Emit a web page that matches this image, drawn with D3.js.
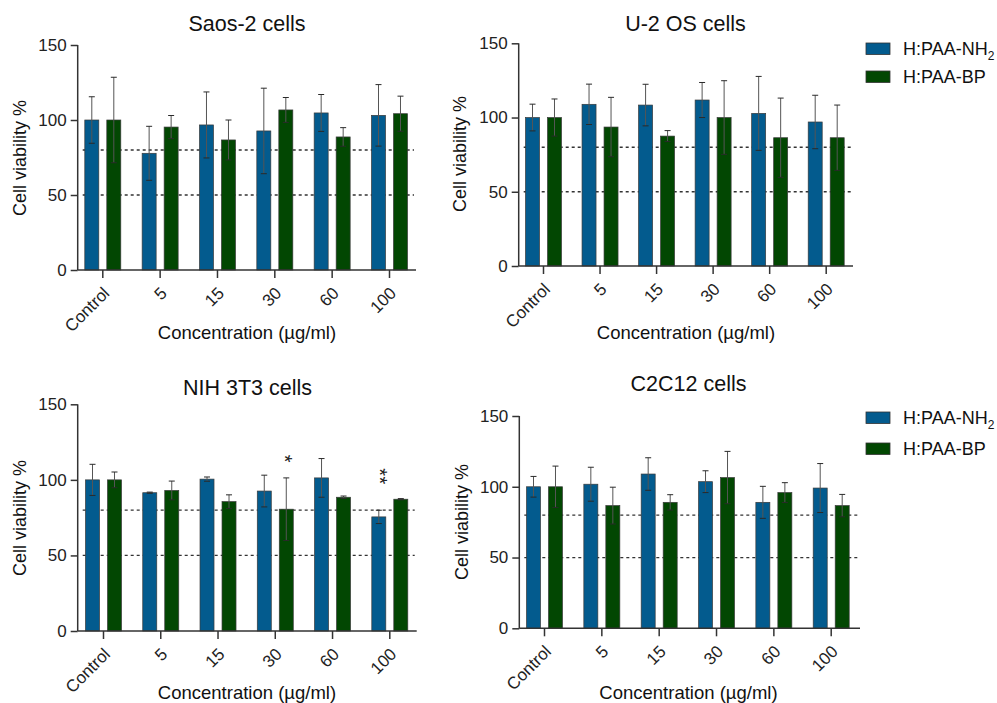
<!DOCTYPE html>
<html>
<head>
<meta charset="utf-8">
<script src="https://cdn.jsdelivr.net/npm/d3@7"></script>
<style>
  html, body { margin: 0; padding: 0; background: #fff; }
  svg { display: block; font-family: "Liberation Sans", Arial, sans-serif; }
</style>
</head>
<body>
<svg id="chart" width="997" height="703"></svg>
<script>
// ---------- data ----------
const categories = ["Control", "5", "15", "30", "60", "100"];
const seriesNames = ["H:PAA-NH2", "H:PAA-BP"];
const yTicks = [0, 50, 100, 150];
const refLines = [80, 50];

const saosNH2   = [100, 77.8, 96.7, 92.7, 104.7, 103.1];
const saosNH2Sd = [15.5, 18.0, 22.0, 28.5, 12.3, 20.5];
const saosBP    = [100, 95.3, 86.7, 106.7, 88.7, 104.2];
const saosBPSd  = [28.5, 7.7, 13.3, 8.3, 6.2, 11.7];

const u2osNH2   = [100, 108.9, 108.4, 111.8, 102.8, 97.0];
const u2osNH2Sd = [9.0, 13.6, 14.0, 11.8, 24.9, 18.0];
const u2osBP    = [100, 93.6, 87.5, 100, 86.4, 86.4];
const u2osBPSd  = [12.5, 20.0, 3.7, 24.8, 26.7, 22.0];

const nihNH2    = [100, 91.5, 100.5, 92.6, 101.3, 75.5];
const nihNH2Sd  = [10.3, 0.4, 1.4, 10.5, 12.8, 4.4];
const nihBP     = [100, 93.0, 85.6, 80.6, 88.5, 87.2];
const nihBPSd   = [5.2, 6.2, 4.5, 20.7, 0.8, 0.4];

const c2NH2     = [100, 101.8, 109.0, 103.6, 89.0, 99.1];
const c2NH2Sd   = [7.3, 12.0, 11.5, 7.7, 11.3, 17.3];
const c2BP      = [100, 86.7, 89.0, 106.5, 95.9, 86.7];
const c2BPSd    = [14.6, 13.0, 5.4, 18.5, 7.0, 7.9];

// significance marks: category, series index, label (stars stacked vertically), centre value level
const nihMarks = [
  { cat: "30", s: 1, text: "*", level: 113.8 },
  { cat: "100", s: 0, text: "**", level: 102.2 }
];

const colors = ["#035b8e", "#024702"];

// ---------- layout (pixel geometry per panel) ----------
const panels = [
  { title: "Saos-2 cells", means: [saosNH2, saosBP], sds: [saosNH2Sd, saosBPSd], marks: [],
    left: 77.7, right: 416, yTop: 45, yBot: 270, c0: 102.3, c1: 389, titleX: 247, titleY: 23,
    yTitleX: 20, yTitleY: 158, xTitleX: 247, xTitleY: 333, legend: null },
  { title: "U-2 OS cells", means: [u2osNH2, u2osBP], sds: [u2osNH2Sd, u2osBPSd], marks: [],
    left: 518.7, right: 853, yTop: 43.3, yBot: 266, c0: 543, c1: 825.7, titleX: 685.5, titleY: 23,
    yTitleX: 460, yTitleY: 154, xTitleX: 686, xTitleY: 333, legend: { x: 866, y: 43, gap: 28 } },
  { title: "NIH 3T3 cells", means: [nihNH2, nihBP], sds: [nihNH2Sd, nihBPSd], marks: nihMarks,
    left: 77.7, right: 416.7, yTop: 404.3, yBot: 631, c0: 103, c1: 389.3, titleX: 247.5, titleY: 387,
    yTitleX: 20, yTitleY: 518, xTitleX: 247, xTitleY: 693, legend: null },
  { title: "C2C12 cells", means: [c2NH2, c2BP], sds: [c2NH2Sd, c2BPSd], marks: [],
    left: 519.3, right: 860, yTop: 416, yBot: 628.3, c0: 544, c1: 830.7, titleX: 688.5, titleY: 383,
    yTitleX: 461.5, yTitleY: 522, xTitleX: 688.5, xTitleY: 693, legend: { x: 866, y: 412, gap: 31 } }
];

const svg = d3.select("#chart");
const axisColor = "#333";

panels.forEach(p => {
  const g = svg.append("g");

  const y = d3.scaleLinear().domain([0, 150]).range([p.yBot, p.yTop]);
  const x0 = d3.scalePoint().domain(categories).range([p.c0, p.c1]);
  const x1 = d3.scaleBand().domain(d3.range(seriesNames.length)).range([-17.5, 18.5]).paddingInner(0.3636);

  // reference dashed lines
  refLines.forEach(v => {
    g.append("line")
      .attr("x1", p.left + 5).attr("x2", p.right - 2)
      .attr("y1", y(v)).attr("y2", y(v))
      .attr("stroke", "#333").attr("stroke-width", 1.3)
      .attr("stroke-dasharray", "3,3");
  });

  // bars
  seriesNames.forEach((sName, s) => {
    const rows = categories.map((c, i) => ({ c, v: p.means[s][i], sd: p.sds[s][i] }));
    g.append("g").selectAll("rect").data(rows).join("rect")
      .attr("x", d => x0(d.c) + x1(s))
      .attr("width", x1.bandwidth())
      .attr("y", d => y(d.v))
      .attr("height", d => y(0) - y(d.v))
      .attr("fill", colors[s])
      .attr("stroke", "#3a3a3a").attr("stroke-width", 0.7);

    const eg = g.append("g").attr("stroke", "#2a2a2a").attr("stroke-width", 1);
    rows.forEach(d => {
      const cx = x0(d.c) + x1(s) + x1.bandwidth() / 2;
      eg.append("line").attr("x1", cx).attr("x2", cx).attr("y1", y(d.v + d.sd)).attr("y2", y(d.v - d.sd))
        .attr("stroke", "#555");
      [d.v + d.sd, d.v - d.sd].forEach(e => {
        eg.append("line").attr("x1", cx - 3).attr("x2", cx + 3).attr("y1", y(e)).attr("y2", y(e));
      });
    });
  });

  // significance marks: one text, rotated so the stars stack vertically
  p.marks.forEach(m => {
    const cx = x0(m.cat) + x1(m.s) + x1.bandwidth() / 2 + (m.s === 0 ? 4 : 1.5);
    g.append("text")
      .attr("transform", `translate(${cx},${y(m.level)}) rotate(90)`)
      .attr("text-anchor", "middle").attr("dy", "0.51em")
      .attr("letter-spacing", 0.6)
      .attr("font-size", 20).attr("fill", "#222")
      .text(m.text);
  });

  // y axis
  const ya = g.append("g").attr("transform", `translate(${p.left},0)`)
    .call(d3.axisLeft(y).tickValues(yTicks).tickSize(7).tickPadding(4));
  ya.select(".domain").attr("stroke", axisColor).attr("stroke-width", 1.5)
    .attr("d", `M0,${p.yBot}V${p.yTop}`);
  ya.selectAll(".tick line").attr("stroke", axisColor).attr("stroke-width", 1.5);
  ya.selectAll(".tick text").attr("font-size", 17).attr("fill", "#222")
    .attr("font-family", "Liberation Sans, Arial, sans-serif");

  // x axis
  const xa = g.append("g").attr("transform", `translate(0,${p.yBot})`)
    .call(d3.axisBottom(x0).tickSize(8).tickPadding(0));
  xa.select(".domain").remove();
  xa.append("line").attr("x1", p.left).attr("x2", p.right).attr("y1", 0).attr("y2", 0)
    .attr("stroke", axisColor).attr("stroke-width", 1.5);
  xa.selectAll(".tick line").attr("stroke", axisColor).attr("stroke-width", 1.5);
  xa.selectAll(".tick text")
    .attr("font-size", 17).attr("fill", "#222")
    .attr("font-family", "Liberation Sans, Arial, sans-serif")
    .attr("text-anchor", "end")
    .attr("y", 0).attr("dy", "0.35em")
    .attr("transform", "translate(3.5,20) rotate(-45)");

  // titles
  g.append("text").attr("x", p.titleX).attr("y", p.titleY).attr("dy", "0.35em")
    .attr("text-anchor", "middle").attr("font-size", 21.5).attr("fill", "#111").text(p.title);
  g.append("text").attr("transform", `translate(${p.yTitleX},${p.yTitleY}) rotate(-90)`)
    .attr("dy", "0.35em").attr("text-anchor", "middle").attr("font-size", 18).attr("fill", "#111")
    .text("Cell viability %");
  g.append("text").attr("x", p.xTitleX).attr("y", p.xTitleY).attr("dy", "0.35em")
    .attr("text-anchor", "middle").attr("font-size", 18.5).attr("fill", "#111")
    .text("Concentration (\u00b5g/ml)");

  // legend
  if (p.legend) {
    seriesNames.forEach((sName, s) => {
      const ly = p.legend.y + s * p.legend.gap;
      g.append("rect").attr("x", p.legend.x).attr("y", ly).attr("width", 24).attr("height", 11.5)
        .attr("fill", colors[s]).attr("stroke", "#333").attr("stroke-width", 0.8);
      const t = g.append("text").attr("x", p.legend.x + 37).attr("y", ly + 6).attr("dy", "0.35em")
        .attr("font-size", 18).attr("fill", "#111");
      if (sName.endsWith("NH2")) {
        t.append("tspan").text(sName.slice(0, -1));
        t.append("tspan").attr("font-size", 12).attr("dy", "0.35em").text("2");
      } else {
        t.text(sName);
      }
    });
  }
});
</script>
</body>
</html>
